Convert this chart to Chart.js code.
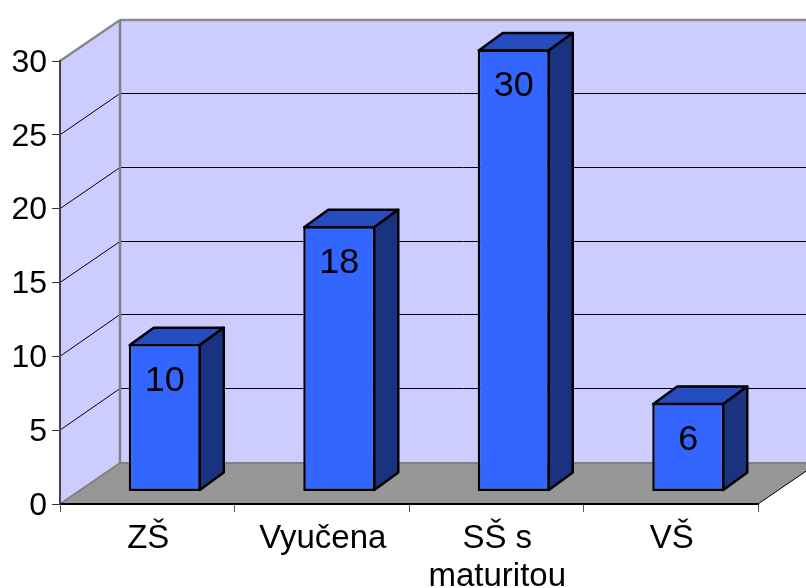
<!DOCTYPE html>
<html>
<head>
<meta charset="utf-8">
<title>Vzdělání</title>
<script src="https://cdn.jsdelivr.net/npm/chart.js@4"></script>
<style>
    html, body { margin: 0; padding: 0; background: #fff; overflow: hidden; }
    canvas { display: block; }
</style>
</head>
<body>
<canvas id="chart" width="806" height="588"></canvas>
<script>
const categories = ['ZŠ', 'Vyučena', ['SŠ s', 'maturitou'], 'VŠ'];
const values = [10, 18, 30, 6];
const yTickValues = [0, 5, 10, 15, 20, 25, 30];

// depth of the box behind the axes, and of each column
const wallDepth = { x: 60, y: -41 };
const gridDepthY = -42;
const barDepth = { x: 24, y: -17.5 };
// columns stand part-way into the floor
const barShift = { x: 17.5, y: -12.5 };
const barScaleY = 0.998;
const fontFamily = '"Liberation Sans", Arial, sans-serif';

function polygon(ctx, pts, fill, stroke, width) {
    ctx.beginPath();
    pts.forEach((p, i) => i ? ctx.lineTo(p[0], p[1]) : ctx.moveTo(p[0], p[1]));
    ctx.closePath();
    if (fill) { ctx.fillStyle = fill; ctx.fill(); }
    if (stroke) { ctx.strokeStyle = stroke; ctx.lineWidth = width; ctx.lineJoin = 'round'; ctx.stroke(); }
}

function line(ctx, x1, y1, x2, y2, color, width) {
    ctx.beginPath();
    ctx.moveTo(x1, y1);
    ctx.lineTo(x2, y2);
    ctx.strokeStyle = color;
    ctx.lineWidth = width;
    ctx.stroke();
}

const box3d = {
    id: 'box3d',
    // walls, floor and gridlines
    beforeDraw(chart) {
        const { ctx, scales: { x, y } } = chart;
        const l = x.left, r = x.right, t = y.getPixelForValue(30), b = y.getPixelForValue(0);
        const dx = wallDepth.x, dy = wallDepth.y;
        ctx.save();
        polygon(ctx, [[l, t], [l + dx, t + dy], [l + dx, b + dy], [l, b]], '#ccccff');
        polygon(ctx, [[l + dx, t + dy], [r + dx, t + dy], [r + dx, b + dy], [l + dx, b + dy]], '#ccccff');
        polygon(ctx, [[l, b], [l + dx, b + dy], [r + dx, b + dy], [r, b]], '#969696');

        yTickValues.slice(1, -1).forEach(v => {
            const py = y.getPixelForValue(v);
            const back = Math.round(py + gridDepthY) + 0.5;
            line(ctx, l, py, l + dx, back, '#000', 1);
            line(ctx, l + dx, back, r + dx, back, '#000', 1);
        });

        line(ctx, l, t, l + dx, t + dy, '#888', 2.5);
        line(ctx, l + dx, t + dy, r + dx, t + dy, '#8c8c8c', 2.5);
        line(ctx, l + dx, t + dy, l + dx, b + dy, '#808080', 2.5);
        line(ctx, l, b, l + dx, b + dy, '#808080', 2);
        line(ctx, l + dx, b + dy, r + dx, b + dy, '#808080', 2);
        line(ctx, r, b, r + dx, b + dy, '#000', 1);
        ctx.restore();
    },
    // side and top faces go under the library's front face
    beforeDatasetsDraw(chart) {
        const { ctx, scales: { y } } = chart;
        const base = y.getPixelForValue(0);
        ctx.save();
        ctx.translate(barShift.x, barShift.y + base);
        ctx.scale(1, barScaleY);
        ctx.translate(0, -base);
        chart.getDatasetMeta(0).data.forEach(bar => {
            const left = bar.x - bar.width / 2 + 1, right = bar.x + bar.width / 2 - 1;
            const top = bar.y + 1, bottom = bar.base - 1;
            const dx = barDepth.x, dy = barDepth.y;
            polygon(ctx, [[left, top], [left + dx, top + dy], [right + dx, top + dy], [right, top]], '#264dbf', '#000', 2.5);
            polygon(ctx, [[right, top], [right + dx, top + dy], [right + dx, bottom + dy], [right, bottom]], '#1a3380', '#000', 2.5);
        });
    },
    afterDatasetsDraw(chart) {
        const { ctx } = chart;
        ctx.fillStyle = '#000';
        ctx.font = '36px ' + fontFamily;
        ctx.textAlign = 'center';
        ctx.textBaseline = 'alphabetic';
        chart.getDatasetMeta(0).data.forEach((bar, i) => {
            ctx.fillText(String(values[i]), bar.x, bar.y + 47);
        });
        ctx.restore();
    }
};

new Chart(document.getElementById('chart'), {
    type: 'bar',
    data: {
        labels: categories,
        datasets: [{
            data: values,
            backgroundColor: '#3366ff',
            borderColor: '#000',
            borderWidth: 2.5,
            borderSkipped: false,
            barPercentage: 0.4126,
            categoryPercentage: 1,
            clip: false
        }]
    },
    options: {
        responsive: false,
        animation: false,
        layout: { padding: { top: 61, right: 48, left: 0, bottom: 0 } },
        plugins: { legend: { display: false }, tooltip: { enabled: false } },
        scales: {
            x: {
                afterFit(scale) { scale.height = 84; },
                grid: { offset: true, drawOnChartArea: false, tickLength: 8, color: '#555', tickWidth: 1 },
                border: { color: '#000', width: 2 },
                ticks: {
                    color: '#000',
                    autoSkip: false,
                    maxRotation: 0,
                    minRotation: 0,
                    padding: 8,
                    labelOffset: 1,
                    font: { family: fontFamily, size: 33, lineHeight: 1.14 }
                }
            },
            y: {
                min: 0,
                max: 30,
                afterFit(scale) { scale.width = 60; },
                afterBuildTicks(scale) { scale.ticks = yTickValues.map(v => ({ value: v })); },
                grid: { drawOnChartArea: false, tickLength: 8, color: '#333', tickWidth: 1 },
                border: { color: '#444', width: 2 },
                ticks: {
                    color: '#000',
                    padding: 5,
                    labelOffset: 2,
                    font: { family: fontFamily, size: 32 }
                }
            }
        }
    },
    plugins: [box3d]
});
</script>
</body>
</html>
